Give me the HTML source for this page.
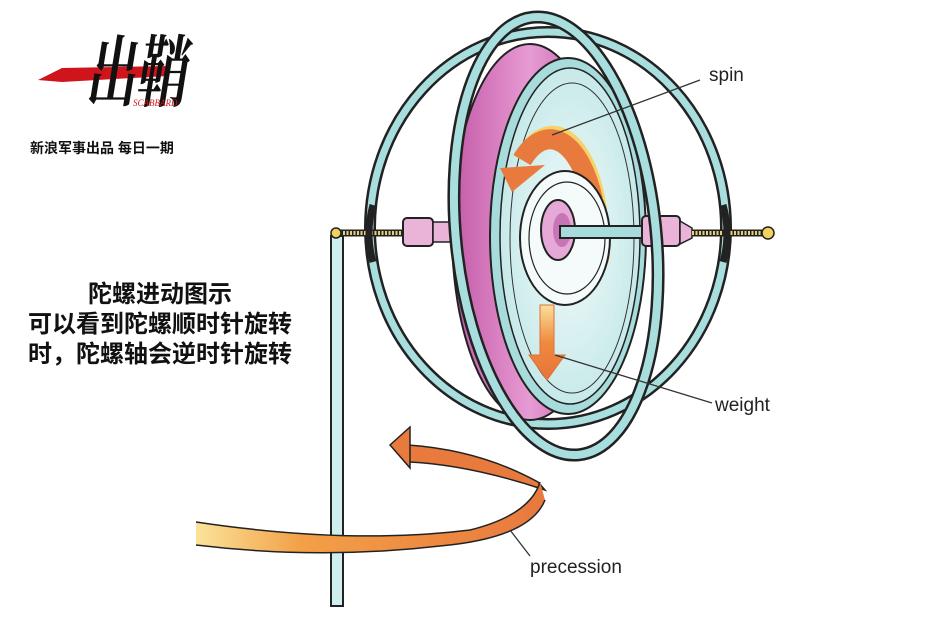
<!DOCTYPE html>
<html><head><meta charset="utf-8"><style>
html,body{margin:0;padding:0;background:#fff;width:950px;height:619px;overflow:hidden}
svg{display:block}
</style></head><body>
<svg width="950" height="619" viewBox="0 0 950 619" xmlns="http://www.w3.org/2000/svg">
<defs>
<linearGradient id="band" x1="0" x2="1"><stop offset="0" stop-color="#fbe39a"/><stop offset="0.3" stop-color="#f3a047"/><stop offset="1" stop-color="#e8783e"/></linearGradient>
<linearGradient id="rim" x1="0" x2="1"><stop offset="0" stop-color="#c45aa8"/><stop offset="0.5" stop-color="#e79bd3"/><stop offset="1" stop-color="#b84f9e"/></linearGradient>
<radialGradient id="face" cx="0.5" cy="0.5" r="0.6"><stop offset="0" stop-color="#f3fbfb"/><stop offset="1" stop-color="#bfe6e6"/></radialGradient>
<linearGradient id="warr" x1="0" y1="0" x2="0" y2="1"><stop offset="0" stop-color="#fbe09a"/><stop offset="0.5" stop-color="#ee8a3e"/><stop offset="1" stop-color="#e8733a"/></linearGradient>
</defs>

<!-- logo -->
<g>
<polygon points="38,80 62,68 168,66 168,76 62,82" fill="#d0141b"/>
<text x="85" y="100" font-family="'Liberation Serif','Noto Serif CJK SC',serif" font-size="78" font-weight="bold" font-style="italic" fill="#111" textLength="100" lengthAdjust="spacingAndGlyphs">出鞘</text>
<text x="133" y="106" font-family="'Liberation Serif',serif" font-size="9" font-style="italic" fill="#d0141b">SCABBARD</text>
<text x="30" y="153" font-family="'Liberation Sans','Noto Sans CJK SC',sans-serif" font-size="14" font-weight="bold" fill="#111">新浪军事出品 每日一期</text>
</g>

<!-- Chinese text -->
<g font-family="'Liberation Sans','Noto Sans CJK SC',sans-serif" font-size="24" font-weight="bold" fill="#111" text-anchor="middle">
<text x="160" y="302">陀螺进动图示</text>
<text x="160" y="332">可以看到陀螺顺时针旋转</text>
<text x="160" y="362">时，陀螺轴会逆时针旋转</text>
</g>

<!-- pole -->
<rect x="331" y="236" width="12" height="370" fill="#cfeeee" stroke="#222" stroke-width="2"/>

<!-- outer gimbal ring -->
<ellipse cx="548" cy="228" rx="178" ry="196" fill="none" stroke="#222" stroke-width="12"/>
<ellipse cx="548" cy="228" rx="178" ry="196" fill="none" stroke="#a9dede" stroke-width="7"/>

<!-- disc rim -->
<ellipse cx="530" cy="232" rx="78" ry="188" fill="url(#rim)" stroke="#222" stroke-width="2"/>
<!-- face -->
<ellipse cx="568" cy="236" rx="78" ry="178" fill="#a8dcdc" stroke="#222" stroke-width="2"/>
<ellipse cx="570" cy="236" rx="70" ry="168" fill="url(#face)" stroke="#222" stroke-width="1.5"/>
<ellipse cx="572" cy="238" rx="62" ry="155" fill="none" stroke="#333" stroke-width="1"/>

<!-- spin arrow -->
<path d="M600,262 A48,110 0 0 0 522,160" fill="none" stroke="#f6d36a" stroke-width="18"/>
<path d="M593,200 A48,110 0 0 0 522,160" fill="none" stroke="#e97a3d" stroke-width="20"/>
<polygon points="500,168 545,165 512,192" fill="#e97a3d"/>

<!-- hub -->
<ellipse cx="565" cy="238" rx="45" ry="67" fill="#f5fbfb" stroke="#222" stroke-width="2"/>
<ellipse cx="567" cy="238" rx="38" ry="56" fill="none" stroke="#222" stroke-width="1.2"/>
<ellipse cx="558" cy="230" rx="17" ry="30" fill="#e6a8d6" stroke="#222" stroke-width="2"/>
<ellipse cx="562" cy="230" rx="9" ry="17" fill="#c775b6"/>

<!-- weight arrow -->
<path d="M540,305 L554,305 L554,355 L565,355 L547,380 L529,355 L540,355 Z" fill="url(#warr)" stroke="#e0703a" stroke-width="1"/>

<!-- axle -->
<line x1="336" y1="233" x2="403" y2="233" stroke="#222" stroke-width="7"/>
<line x1="336" y1="233" x2="403" y2="233" stroke="#e4cf7a" stroke-width="4" stroke-dasharray="2,1.5"/>
<circle cx="336" cy="233" r="5" fill="#f2d15c" stroke="#222" stroke-width="1.5"/>
<rect x="403" y="218" width="30" height="28" rx="4" fill="#eab4d8" stroke="#222" stroke-width="2"/>
<rect x="433" y="222" width="20" height="20" fill="#eab4d8" stroke="#222" stroke-width="1.5"/>
<rect x="560" y="226" width="90" height="12" fill="#a8dcdc" stroke="#222" stroke-width="2"/>
<rect x="642" y="216" width="38" height="30" rx="4" fill="#eab4d8" stroke="#222" stroke-width="2"/>
<path d="M680,221 L692,228 L692,238 L680,244 Z" fill="#eab4d8" stroke="#222" stroke-width="1.5"/>
<line x1="692" y1="233" x2="765" y2="233" stroke="#222" stroke-width="7"/>
<line x1="692" y1="233" x2="765" y2="233" stroke="#e4cf7a" stroke-width="4" stroke-dasharray="2,1.5"/>
<circle cx="768" cy="233" r="6" fill="#f2d15c" stroke="#222" stroke-width="1.5"/>

<!-- gimbal clamps -->
<path d="M373,205 Q365,233 373,262" fill="none" stroke="#222" stroke-width="7"/>
<path d="M723,205 Q731,233 723,262" fill="none" stroke="#222" stroke-width="7"/>

<!-- inner tilted ring -->
<ellipse cx="556" cy="236" rx="100" ry="220" transform="rotate(-6 556 236)" fill="none" stroke="#222" stroke-width="13"/>
<ellipse cx="556" cy="236" rx="100" ry="220" transform="rotate(-6 556 236)" fill="none" stroke="#a9dede" stroke-width="8"/>

<!-- precession band -->
<path d="M408,445 Q480,450 538,482 L545,490 Q470,465 410,462 Z" fill="#e97a3d" stroke="#222" stroke-width="1.5"/>
<path d="M390,445 L410,427 L410,468 Z" fill="#e97a3d" stroke="#222" stroke-width="1.5"/>
<path d="M196,522 Q350,545 470,530 Q530,515 540,482 L545,500 Q530,538 440,546 Q320,560 196,545 Z" fill="url(#band)"/>
<path d="M196,522 Q350,545 470,530 Q530,515 540,482" fill="none" stroke="#222" stroke-width="1.5"/>
<path d="M196,545 Q320,560 440,546 Q530,538 545,500" fill="none" stroke="#222" stroke-width="1.5"/>

<!-- leader lines -->
<g stroke="#333" stroke-width="1.3" fill="none">
<line x1="552" y1="135" x2="700" y2="80"/>
<line x1="555" y1="355" x2="712" y2="403"/>
<line x1="510" y1="530" x2="530" y2="556"/>
</g>
<g font-family="'Liberation Sans',sans-serif" font-size="19" fill="#222">
<text x="709" y="81">spin</text>
<text x="715" y="411">weight</text>
<text x="530" y="573">precession</text>
</g>
</svg>
</body></html>
